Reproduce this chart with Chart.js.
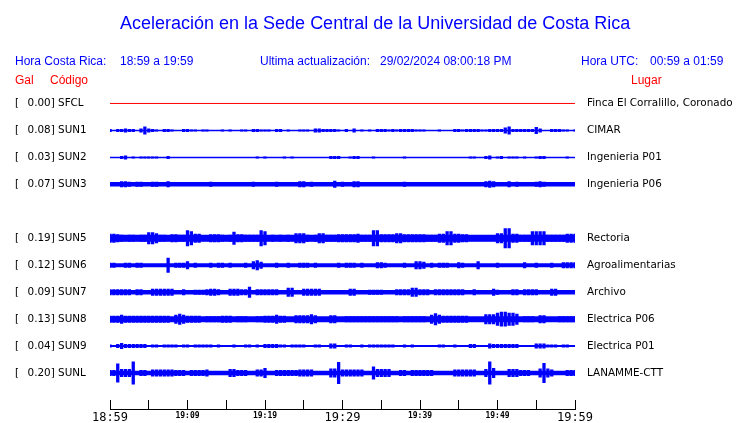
<!DOCTYPE html>
<html>
<head>
<meta charset="utf-8">
<script src="https://cdn.jsdelivr.net/npm/chart.js@4"></script>
<style>
  body { margin: 0; background: #fff; }
  #wrap { position: relative; width: 740px; height: 423px; font-family: "Liberation Sans", Arial, sans-serif; }
  #wrap canvas { position: absolute; left: 0; top: 0; }
  .t { position: absolute; white-space: nowrap; font-size: 12px; line-height: 12px; color: #0000ff; }
  .red { color: #ff0000; }
  #title { left: 120px; top: 14px; font-size: 18px; line-height: 18px; }
</style>
</head>
<body>
<div id="wrap">
  <canvas id="seis" width="740" height="423"></canvas>
  <div class="t" id="title">Aceleración en la Sede Central de la Universidad de Costa Rica</div>
  <div class="t" style="left:15px;top:55px">Hora Costa Rica:</div>
  <div class="t" style="left:120px;top:55px">18:59 a 19:59</div>
  <div class="t" style="left:260px;top:55px">Ultima actualización:</div>
  <div class="t" style="left:380px;top:55px">29/02/2024 08:00:18 PM</div>
  <div class="t" style="left:581px;top:55px">Hora UTC:</div>
  <div class="t" style="left:650px;top:55px">00:59 a 01:59</div>
  <div class="t red" style="left:15px;top:74px">Gal</div>
  <div class="t red" style="left:50px;top:74px">Código</div>
  <div class="t red" style="left:631px;top:74px">Lugar</div>
</div>
<script>
// one entry per trace row; SUN4 is not shown (null row)
const codes = ['SFCL', 'SUN1', 'SUN2', 'SUN3', null, 'SUN5', 'SUN6', 'SUN7', 'SUN8', 'SUN9', 'SUNL'];
const peakGal = [0.00, 0.08, 0.03, 0.07, null, 0.19, 0.12, 0.09, 0.13, 0.04, 0.20];
const places = ['Finca El Corralillo, Coronado', 'CIMAR', 'Ingenieria P01', 'Ingenieria P06', null,
    'Rectoria', 'Agroalimentarias', 'Archivo', 'Electrica P06', 'Electrica P01', 'LANAMME-CTT'];

// background noise level per trace (counts peak to peak)
const noise = [1, 1.5, 1.5, 4.5, null, 7, 4, 4.5, 6, 2, 4.5];

// burst amplitude every 30 s from 18:59 to 19:59, base-36 digit = counts peak to peak
const bursts = [
    '',
    '3033433048 4320332003 3220220002 0200220332 2203302002 2204433332 0304020203 3323233332 2200020003 3233332233 3368333333 7400333220 2',
    '0003402022 2220030000 0000000000 0000000020 2000020200 0000000333 0023300020 0000002000 0000000000 0002200340 2302220200 2330000020 0',
    '0006650550 0550060000 0000005000 0000000500 0005000006 6050000070 5006600000 0000005000 0000000000 0000000676 0006050000 5650000000 0',
    null,
    '9987677677 cca7768877 ge99668887 67d887777g e6767676aa a767aa7778 88889777gg 8888aa8888 8877799ee9 9886666666 aakk99777e eee7777799 9',
    '5500550550 00000f0555 8050005055 05000508a7 0005005005 5505000005 0555050006 6500005008 8705055500 6500080000 5000000600 5000500666 6',
    '6666660660 0777777006 0055567760 077766b066 6666009900 7777700000 0077000555 5000666699 6660666666 6600600007 5000660666 6000770000 0',
    '7779777777 77777709b9 7777066667 7706660066 7779770088 88a8000880 0666666666 6666606666 6609c97777 7770000aaa dffddb0666 0880006666 6',
    '3046444444 0330333303 3033333030 0030033030 4444330333 3003300550 0330030333 3333003030 0000033003 0004400054 4444440000 5553330330 0',
    '66j888n066 0777777666 0666670000 0886660077 a006666667 777000099m 77777700d8 8880066066 6666000007 77777008na 0008886660 09k9700066 6'
];

const timeLabels = ['18:59', '19:09', '19:19', '19:29', '19:39', '19:49', '19:59'];

const SPAN_MIN = 60;
const STEP_MIN = 0.5;
const COUNTS_PER_ROW = 27;

const datasets = [];
codes.forEach(function (code, row) {
    if (!code) return;
    const color = peakGal[row] === 0 ? '#ff0000' : '#0000ff';
    datasets.push({
        type: 'line',
        data: [{ x: 0, y: row }, { x: SPAN_MIN, y: row }],
        borderColor: color,
        borderWidth: noise[row],
        pointRadius: 0,
        fill: false
    });
    const s = (bursts[row] || '').replace(/ /g, '');
    const pts = [];
    for (let k = 0; k < s.length; k++) {
        const h = parseInt(s[k], 36);
        if (h > 0) {
            const half = h / 2 / COUNTS_PER_ROW;
            pts.push({ x: k * STEP_MIN, y: [row - half, row + half] });
        }
    }
    if (pts.length) {
        datasets.push({
            type: 'bar',
            data: pts,
            backgroundColor: color,
            borderWidth: 0,
            grouped: false,
            barPercentage: 0.85,
            categoryPercentage: 1
        });
    }
});

const rowTicks = (s) => {
    s.ticks = codes.map((c, i) => c ? { value: i } : null).filter(Boolean);
};
const noPad = (s) => {
    s.paddingTop = 0;
    s.paddingBottom = 0;
    s.paddingLeft = 0;
    s.paddingRight = 0;
};
const labelFont = { family: 'DejaVu Sans', size: 10.4 };

new Chart(document.getElementById('seis'), {
    type: 'bar',
    data: { datasets: datasets },
    options: {
        responsive: false,
        animation: false,
        devicePixelRatio: 1,
        layout: { padding: { left: 15, top: 76.5, right: 0, bottom: 0 } },
        plugins: { legend: { display: false }, tooltip: { enabled: false } },
        scales: {
            x: {
                type: 'linear',
                min: 0,
                max: SPAN_MIN,
                offset: false,
                grid: { offset: false, drawOnChartArea: false, tickLength: -9, color: '#000' },
                border: { color: '#000', width: 1 },
                ticks: {
                    stepSize: 5,
                    autoSkip: false,
                    maxRotation: 0,
                    padding: 11,
                    color: '#000',
                    font: (c) => (c.tick && c.tick.value % 30 === 0)
                        ? { family: 'DejaVu Sans Mono', size: 12 }
                        : { family: 'DejaVu Sans Mono', size: 8, weight: 'bold' },
                    callback: (v) => v % 10 === 0 ? timeLabels[v / 10] : ''
                },
                afterFit: (s) => { s.height = 14; noPad(s); }
            },
            y: {
                position: 'left',
                min: -1,
                max: 10 + 36 / COUNTS_PER_ROW,
                reverse: true,
                grid: { display: false, drawTicks: false },
                border: { display: false },
                afterBuildTicks: rowTicks,
                ticks: {
                    autoSkip: false,
                    crossAlign: 'far',
                    color: '#000',
                    font: labelFont,
                    callback: (v) => '[\u2002 ' + peakGal[v].toFixed(2) + '] ' + codes[v]
                },
                afterFit: (s) => { s.width = 95; noPad(s); }
            },
            y2: {
                position: 'right',
                min: -1,
                max: 10 + 36 / COUNTS_PER_ROW,
                reverse: true,
                grid: { display: false, drawTicks: false },
                border: { display: false },
                afterBuildTicks: rowTicks,
                ticks: {
                    autoSkip: false,
                    crossAlign: 'near',
                    padding: 12,
                    color: '#000',
                    font: labelFont,
                    callback: (v) => places[v]
                },
                afterFit: (s) => { s.width = 165; noPad(s); }
            }
        }
    }
});
</script>
</body>
</html>
